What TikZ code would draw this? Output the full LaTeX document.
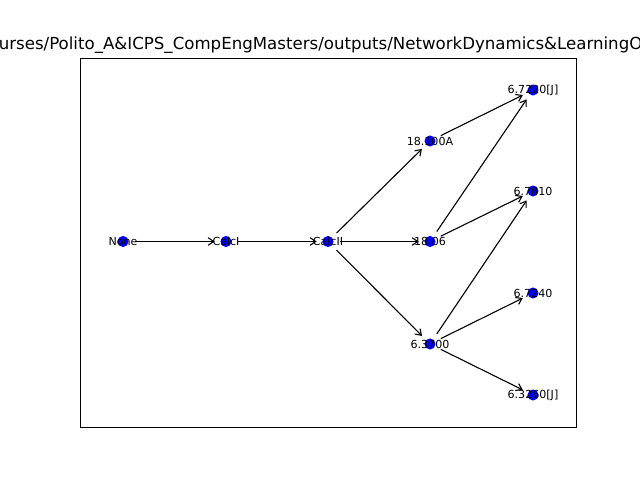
\documentclass[tikz,border=0pt]{standalone}
\usepackage{fontspec}
\setmainfont{DejaVu Sans}
\usetikzlibrary{arrows.meta}
\definecolor{nodeblue}{RGB}{0,0,255}
\tikzset{
  dot/.style={circle,fill=nodeblue,minimum size=8pt,inner sep=0pt},
  lab/.style={font=\fontsize{8}{9}\selectfont,inner sep=0pt},
  edge/.style={-{Straight Barb[length=4pt,width=5.5pt]},line width=0.8pt,shorten <=4.5pt,shorten >=4pt},
}
\begin{document}
\begin{tikzpicture}[x=0.01in,y=-0.01in]
\useasboundingbox (0,0) rectangle (640,480);
\fill[white] (0,0) rectangle (640,480);
\draw[line width=0.72pt] (80.5,58.5) rectangle (576.5,427.5);
\node[anchor=base west,inner sep=0pt,font=\fontsize{12}{14}\selectfont] (title) at (-1.5,50) {urses/Polito\_A\&ICPS\_CompEngMasters/outputs/NetworkDynamics\&LearningO};
% nodes
\node[dot] (none) at (123,241.5) {};
\node[dot] (c1) at (226,241.5) {};
\node[dot] (c2) at (328,241.5) {};
\node[dot] (a18100) at (430,141) {};
\node[dot] (a1806) at (430,241.5) {};
\node[dot] (a6370) at (430,344) {};
\node[dot] (b6722) at (533,90) {};
\node[dot] (b6781) at (533,191) {};
\node[dot] (b6724) at (533,293) {};
\node[dot] (b6326) at (533,395) {};
% edges
\draw[edge] (none) -- (c1);
\draw[edge] (c1) -- (c2);
\draw[edge] (c2) -- (a18100);
\draw[edge] (c2) -- (a1806);
\draw[edge] (c2) -- (a6370);
\draw[edge] (a18100) -- (b6722);
\draw[edge] (a1806) -- (b6722);
\draw[edge] (a1806) -- (b6781);
\draw[edge] (a6370) -- (b6781);
\draw[edge] (a6370) -- (b6724);
\draw[edge] (a6370) -- (b6326);
% labels
\node[lab] (lnone) at (none) {None};
\node[lab] (lc1) at (c1) {CalcI};
\node[lab] (lc2) at (c2) {CalcII};
\node[lab] (l18100) at (a18100) {18.100A};
\node[lab] (l1806) at (a1806) {18.06};
\node[lab] (l6370) at (a6370) {6.3700};
\node[lab] (l6722) at (b6722) {6.7220[J]};
\node[lab] (l6781) at (b6781) {6.7810};
\node[lab] (l6724) at (b6724) {6.7240};
\node[lab] (l6326) at (b6326) {6.3260[J]};
\end{tikzpicture}
\end{document}
